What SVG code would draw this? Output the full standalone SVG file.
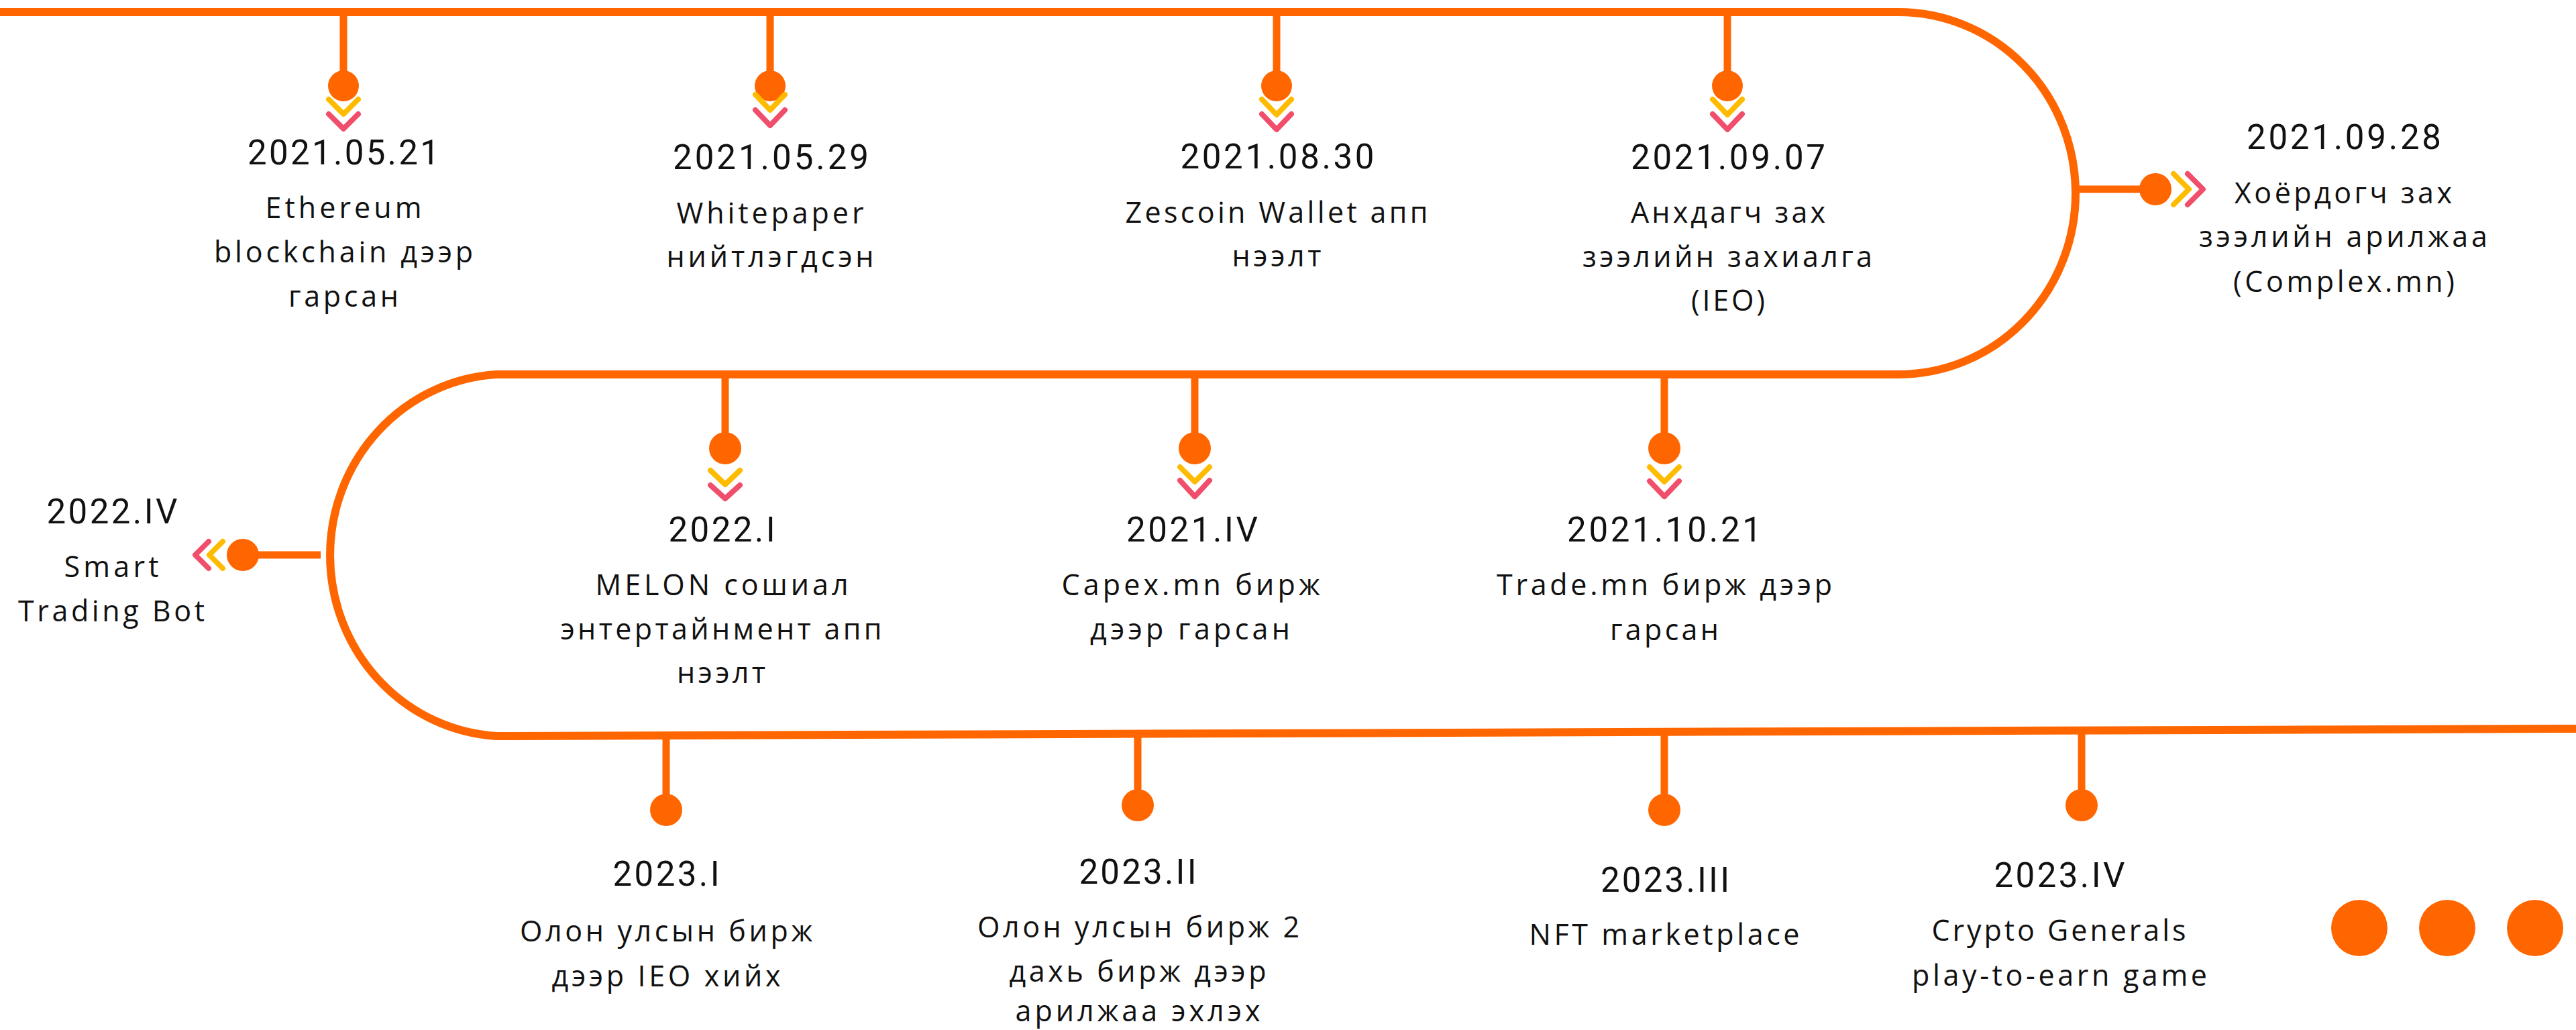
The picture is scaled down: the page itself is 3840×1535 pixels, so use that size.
<svg xmlns="http://www.w3.org/2000/svg" width="3840" height="1535" viewBox="0 0 3840 1535">
<style>
.line{fill:none;stroke:#FF6600;stroke-width:12}
.stem{fill:none;stroke:#FF6600;stroke-width:11}
.dot{fill:#FF6600}
.cy{fill:none;stroke:#FFBB00;stroke-width:8;stroke-linecap:round;stroke-linejoin:round}
.cr{fill:none;stroke:#F04E6A;stroke-width:8;stroke-linecap:round;stroke-linejoin:round}
.date{font-family:Roboto,"Liberation Sans",sans-serif;font-size:51px;fill:#111;text-anchor:middle}
.body{font-family:"Open Sans","Noto Sans",sans-serif;font-size:43px;fill:#111;text-anchor:middle}
</style>
<rect width="3840" height="1535" fill="#ffffff"/>
<g id="connectors">
<path class="line" d="M0 18 H2830 A264 270 0 0 1 2830 558 H740 A264 270 0 0 0 740 1097 L3840 1086"/>
<line class="stem" x1="512" y1="18" x2="512" y2="128"/>
<line class="stem" x1="1148" y1="18" x2="1148" y2="128"/>
<line class="stem" x1="1903" y1="18" x2="1903" y2="128"/>
<line class="stem" x1="2575" y1="18" x2="2575" y2="128"/>
<line class="stem" x1="3094" y1="282" x2="3213" y2="282"/>
<line class="stem" x1="1081" y1="558" x2="1081" y2="668"/>
<line class="stem" x1="1781" y1="558" x2="1781" y2="668"/>
<line class="stem" x1="2481" y1="558" x2="2481" y2="668"/>
<line class="stem" x1="478" y1="827" x2="362" y2="827"/>
<line class="stem" x1="993" y1="1096" x2="993" y2="1207"/>
<line class="stem" x1="1696" y1="1094" x2="1696" y2="1200"/>
<line class="stem" x1="2481" y1="1091" x2="2481" y2="1207"/>
<line class="stem" x1="3103" y1="1088" x2="3103" y2="1200"/>
</g>
<g id="n-2021-05-21">
<circle class="dot" cx="512" cy="128" r="23"/>
<polyline class="cy" points="490,148 512,170 534,148"/>
<polyline class="cr" points="490,170 512,192 534,170"/>
<text class="date" x="512" y="245" textLength="286" lengthAdjust="spacing">2021.05.21</text>
<text class="body" x="512" y="325" textLength="233" lengthAdjust="spacing">Ethereum</text>
<text class="body" x="512" y="391" textLength="386" lengthAdjust="spacing">blockchain дээр</text>
<text class="body" x="512" y="457" textLength="164" lengthAdjust="spacing">гарсан</text>
</g>
<g id="n-2021-05-29">
<circle class="dot" cx="1148" cy="128" r="23"/>
<polyline class="cy" points="1126,141 1148,164 1170,141"/>
<polyline class="cr" points="1126,164 1148,187 1170,164"/>
<text class="date" x="1149" y="252" textLength="292" lengthAdjust="spacing">2021.05.29</text>
<text class="body" x="1148" y="333" textLength="279" lengthAdjust="spacing">Whitepaper</text>
<text class="body" x="1148" y="398" textLength="309" lengthAdjust="spacing">нийтлэгдсэн</text>
</g>
<g id="n-2021-08-30">
<circle class="dot" cx="1903" cy="128" r="23"/>
<polyline class="cy" points="1881,148 1903,171 1925,148"/>
<polyline class="cr" points="1881,170 1903,193 1925,170"/>
<text class="date" x="1904" y="251" textLength="289" lengthAdjust="spacing">2021.08.30</text>
<text class="body" x="1903" y="332" textLength="451" lengthAdjust="spacing">Zescoin Wallet апп</text>
<text class="body" x="1903" y="397" textLength="133" lengthAdjust="spacing">нээлт</text>
</g>
<g id="n-2021-09-07">
<circle class="dot" cx="2575" cy="128" r="23"/>
<polyline class="cy" points="2553,148 2575,171 2597,148"/>
<polyline class="cr" points="2553,170 2575,193 2597,170"/>
<text class="date" x="2576" y="252" textLength="290" lengthAdjust="spacing">2021.09.07</text>
<text class="body" x="2576" y="332" textLength="290" lengthAdjust="spacing">Анхдагч зах</text>
<text class="body" x="2575" y="398" textLength="432" lengthAdjust="spacing">зээлийн захиалга</text>
<text class="body" x="2576" y="463" textLength="110" lengthAdjust="spacing">(IEO)</text>
</g>
<g id="n-2021-09-28">
<circle class="dot" cx="3213" cy="282" r="24"/>
<polyline class="cy" points="3240,259 3263,282 3240,305"/>
<polyline class="cr" points="3261,259 3284,282 3261,305"/>
<text class="date" x="3494" y="222" textLength="290" lengthAdjust="spacing">2021.09.28</text>
<text class="body" x="3493" y="303" textLength="324" lengthAdjust="spacing">Хоёрдогч зах</text>
<text class="body" x="3493" y="368" textLength="430" lengthAdjust="spacing">зээлийн арилжаа</text>
<text class="body" x="3494" y="435" textLength="330" lengthAdjust="spacing">(Complex.mn)</text>
</g>
<g id="n-2021-10-21">
<circle class="dot" cx="2481" cy="668" r="24"/>
<polyline class="cy" points="2459,696 2481,718 2503,696"/>
<polyline class="cr" points="2459,717 2481,740 2503,717"/>
<text class="date" x="2481" y="807" textLength="290" lengthAdjust="spacing">2021.10.21</text>
<text class="body" x="2481" y="887" textLength="500" lengthAdjust="spacing">Trade.mn бирж дээр</text>
<text class="body" x="2481" y="954" textLength="162" lengthAdjust="spacing">гарсан</text>
</g>
<g id="n-2021-IV">
<circle class="dot" cx="1781" cy="668" r="24"/>
<polyline class="cy" points="1759,696 1781,718 1803,696"/>
<polyline class="cr" points="1759,716 1781,740 1803,716"/>
<text class="date" x="1777" y="807" textLength="196" lengthAdjust="spacing">2021.IV</text>
<text class="body" x="1775" y="887" textLength="385" lengthAdjust="spacing">Capex.mn бирж</text>
<text class="body" x="1774" y="953" textLength="298" lengthAdjust="spacing">дээр гарсан</text>
</g>
<g id="n-2022-I">
<circle class="dot" cx="1081" cy="668" r="24"/>
<polyline class="cy" points="1059,701 1081,722 1103,701"/>
<polyline class="cr" points="1059,723 1081,743 1103,723"/>
<text class="date" x="1076" y="807" textLength="159" lengthAdjust="spacing">2022.I</text>
<text class="body" x="1076" y="887" textLength="377" lengthAdjust="spacing">MELON сошиал</text>
<text class="body" x="1075" y="953" textLength="479" lengthAdjust="spacing">энтертайнмент апп</text>
<text class="body" x="1075" y="1018" textLength="132" lengthAdjust="spacing">нээлт</text>
</g>
<g id="n-2022-IV">
<circle class="dot" cx="362" cy="827" r="24"/>
<polyline class="cy" points="332,807 312,827 332,847"/>
<polyline class="cr" points="311,807 291,827 311,847"/>
<text class="date" x="167" y="780" textLength="195" lengthAdjust="spacing">2022.IV</text>
<text class="body" x="166" y="860" textLength="141" lengthAdjust="spacing">Smart</text>
<text class="body" x="166" y="926" textLength="278" lengthAdjust="spacing">Trading Bot</text>
</g>
<g id="n-2023-I">
<circle class="dot" cx="993" cy="1207" r="24"/>
<text class="date" x="993" y="1320" textLength="159" lengthAdjust="spacing">2023.I</text>
<text class="body" x="993" y="1403" textLength="436" lengthAdjust="spacing">Олон улсын бирж</text>
<text class="body" x="993" y="1470" textLength="341" lengthAdjust="spacing">дээр IEO хийх</text>
</g>
<g id="n-2023-II">
<circle class="dot" cx="1696" cy="1200" r="24"/>
<text class="date" x="1696" y="1317" textLength="175" lengthAdjust="spacing">2023.II</text>
<text class="body" x="1697" y="1397" textLength="480" lengthAdjust="spacing">Олон улсын бирж 2</text>
<text class="body" x="1696" y="1463" textLength="383" lengthAdjust="spacing">дахь бирж дээр</text>
<text class="body" x="1696" y="1522" textLength="365" lengthAdjust="spacing">арилжаа эхлэх</text>
</g>
<g id="n-2023-III">
<circle class="dot" cx="2481" cy="1207" r="24"/>
<text class="date" x="2482" y="1329" textLength="192" lengthAdjust="spacing">2023.III</text>
<text class="body" x="2481" y="1408" textLength="403" lengthAdjust="spacing">NFT marketplace</text>
</g>
<g id="n-2023-IV">
<circle class="dot" cx="3103" cy="1200" r="24"/>
<text class="date" x="3070" y="1322" textLength="195" lengthAdjust="spacing">2023.IV</text>
<text class="body" x="3069" y="1402" textLength="379" lengthAdjust="spacing">Crypto Generals</text>
<text class="body" x="3070" y="1469" textLength="440" lengthAdjust="spacing">play-to-earn game</text>
</g>
<g id="more">
<circle class="dot" cx="3517" cy="1383" r="42"/>
<circle class="dot" cx="3648" cy="1383" r="42"/>
<circle class="dot" cx="3779" cy="1383" r="42"/>
</g>
</svg>
